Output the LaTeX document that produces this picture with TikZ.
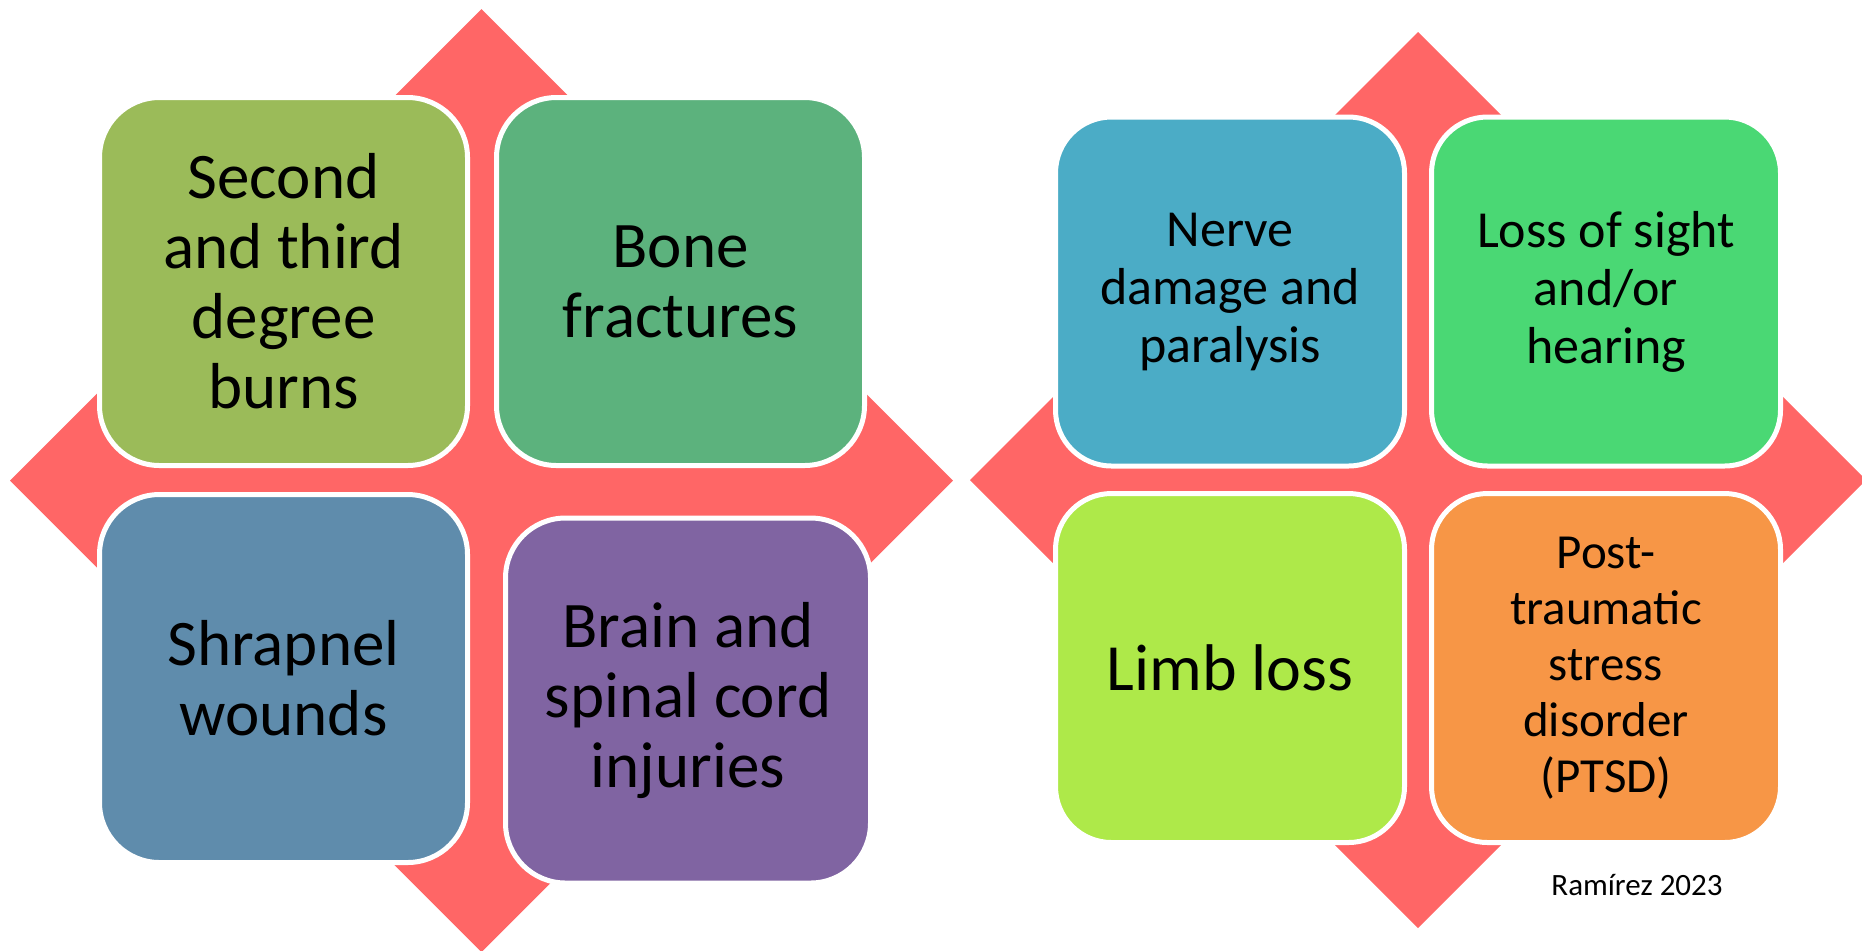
\documentclass[tikz,border=0pt]{standalone}
\usepackage{fontspec}
\setmainfont{Carlito}
\definecolor{diamondred}{HTML}{FF6666}
\definecolor{olive}{HTML}{9BBB59}
\definecolor{seagreen}{HTML}{5CB27D}
\definecolor{steel}{HTML}{5F8CAC}
\definecolor{plum}{HTML}{8064A2}
\definecolor{aqua}{HTML}{4BACC6}
\definecolor{brightgreen}{HTML}{4AD874}
\definecolor{lime}{HTML}{AEE949}
\definecolor{tangerine}{HTML}{F79646}
\begin{document}
\begin{tikzpicture}[x=0.5pt,y=-0.5pt,
  cell/.style={draw=white, line width=2.5pt, rounded corners=30pt, minimum width=184pt, minimum height=184pt, inner sep=0pt, align=center, text=black, font=\fontsize{32.5}{35}\selectfont},
  smallcell/.style={cell, rounded corners=28pt, minimum width=174.5pt, minimum height=174.5pt, font=\fontsize{26}{29}\selectfont}]
\useasboundingbox (0,0) rectangle (1862,950);
% backdrops
\fill[diamondred] (481.5,9) -- (953,480.5) -- (481.5,952) -- (10,480.5) -- cycle;
\fill[diamondred] (1418,32) -- (1866,480) -- (1418,928) -- (970,480) -- cycle;
% left matrix
\node[cell, fill=olive] (burns) at (283.5,281.5) {Second\\and third\\degree\\burns};
\node[cell, fill=seagreen] (bones) at (680.5,281.5) {Bone\\fractures};
\node[cell, fill=steel] (shrapnel) at (283.5,678.5) {Shrapnel\\wounds};
\node[cell, fill=plum, minimum width=182.5pt, minimum height=182.5pt] (brain) at (688,700.5) {Brain and\\spinal cord\\injuries};
% right matrix
\node[smallcell, fill=aqua] (nerve) at (1230,291.5) {Nerve\\damage and\\paralysis};
\node[smallcell, fill=brightgreen] (sight) at (1606,291.5) {Loss of sight\\and/or\\hearing};
\node[smallcell, fill=lime, font=\fontsize{33}{36}\selectfont] (limb) at (1230,668) {Limb loss};
\node[smallcell, fill=tangerine, font=\fontsize{24.5}{28}\selectfont] (ptsd) at (1606,668) {Post-\\traumatic\\stress\\disorder\\(PTSD)};
\node[anchor=base, font=\fontsize{15.5}{18}\selectfont] (credit) at (1637,895) {Ramírez 2023};
\end{tikzpicture}
\end{document}
